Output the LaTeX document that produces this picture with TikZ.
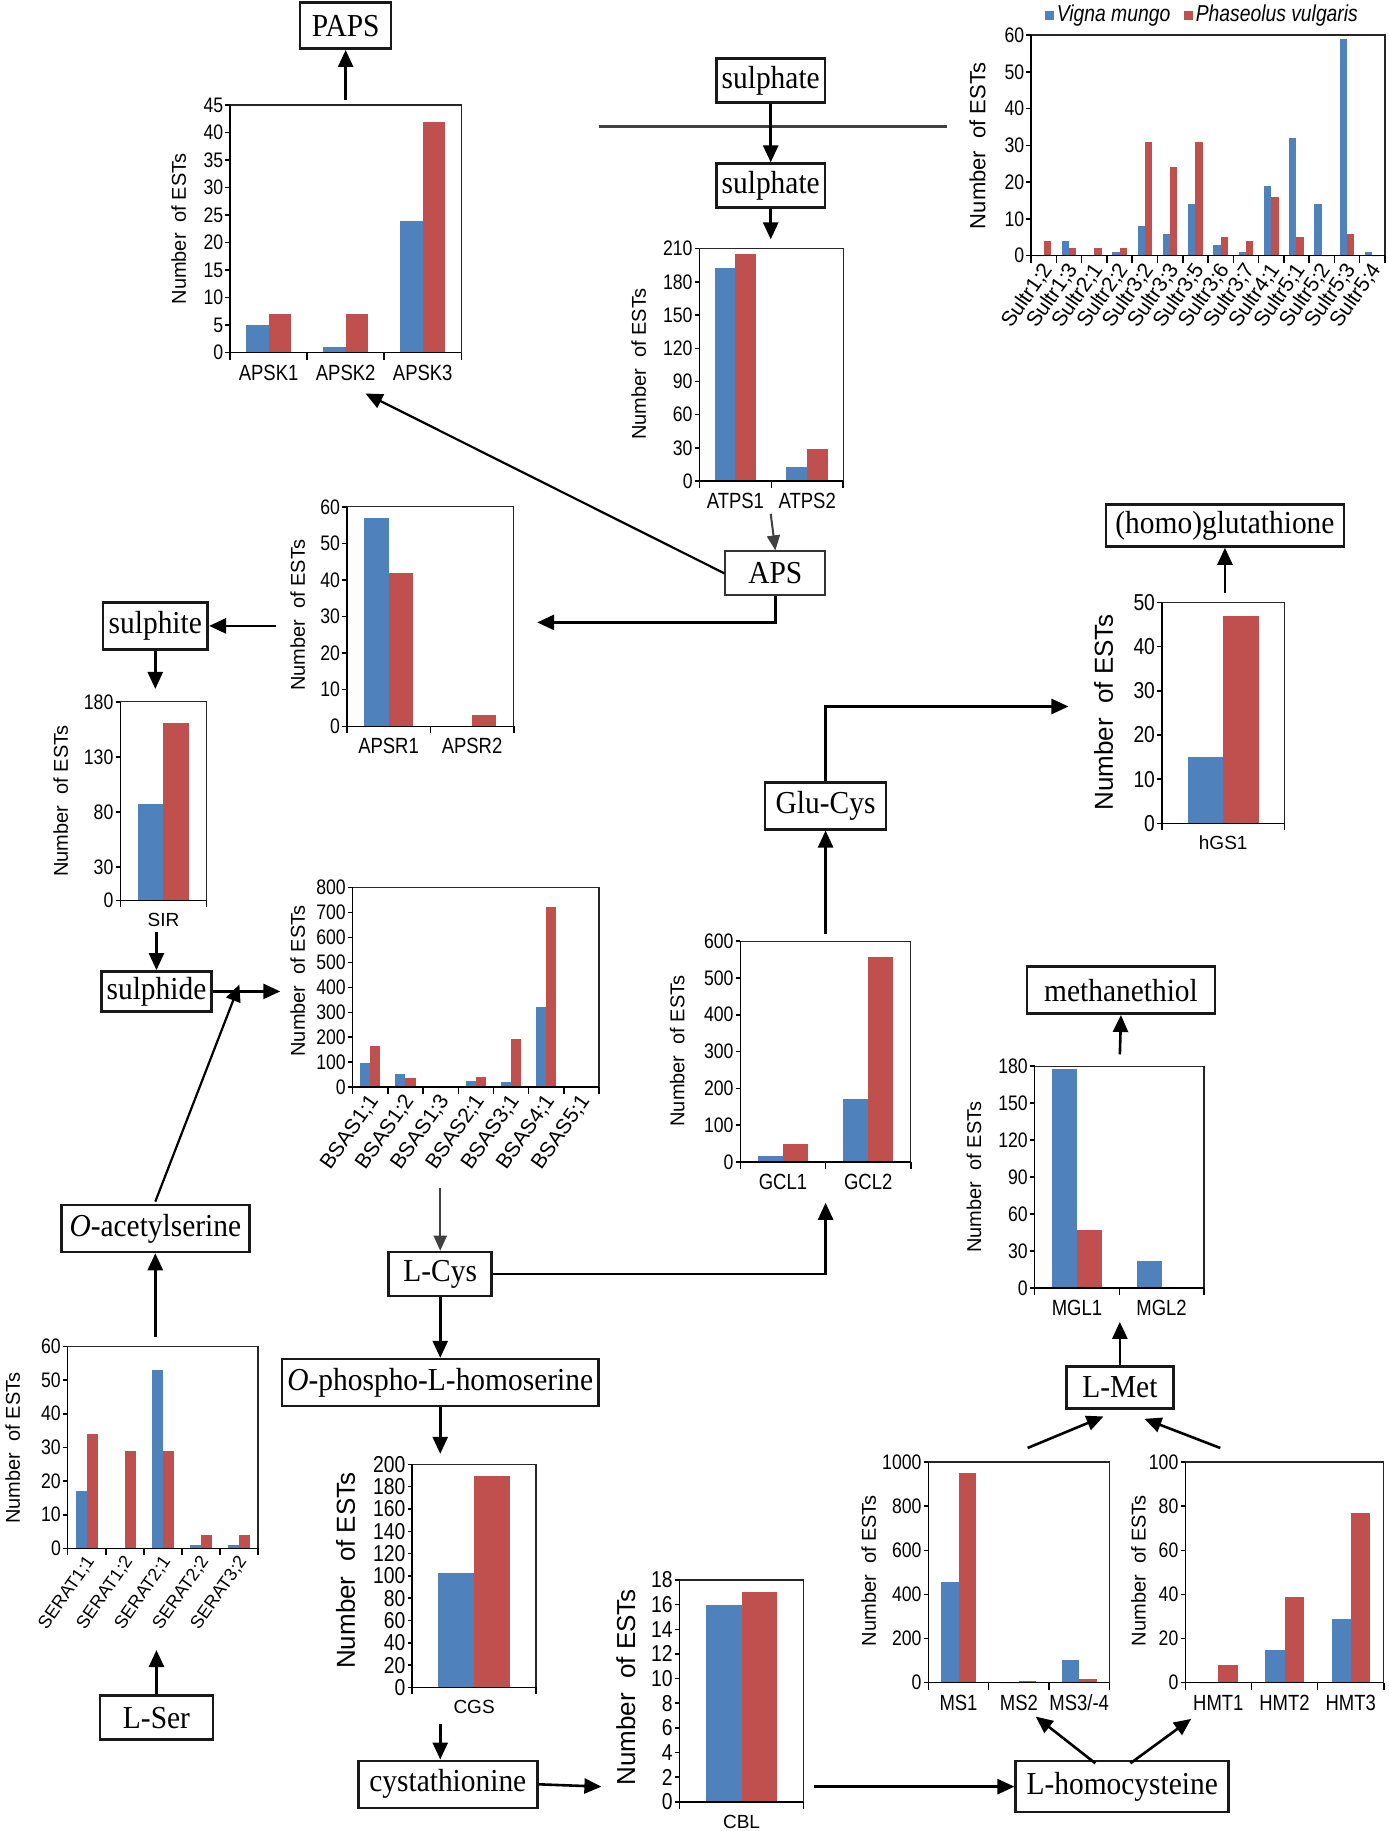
\documentclass[tikz,border=0pt]{standalone}
\usepackage{fontspec}
\setmainfont{Liberation Serif}
\newfontfamily\bxfont[FakeStretch=0.92]{Liberation Serif}
\newfontfamily\axfont[FakeStretch=0.84]{Liberation Sans}
\newfontfamily\axnfont{Liberation Sans}
\usetikzlibrary{arrows.meta}
\definecolor{vblue}{HTML}{4F81BD}
\definecolor{vred}{HTML}{C0504D}
\newcommand\setchart[6]{\def\chL{#1}\def\chR{#2}\def\chT{#3}\def\chB{#4}\def\chMax{#5}\def\chN{#6}\pgfmathsetmacro\chW{(#2-#1)/#6}}
\newcommand\chbars[1]{\foreach \b/\r [count=\i from 0] in {#1}{%
  \pgfmathsetmacro\xa{\chL+(\i+0.21)*\chW}%
  \pgfmathsetmacro\xb{\chL+(\i+0.5)*\chW}%
  \pgfmathsetmacro\xc{\chL+(\i+0.79)*\chW}%
  \pgfmathsetmacro\yb{\chB-(\chB-\chT)*(\b/\chMax)}%
  \pgfmathsetmacro\yr{\chB-(\chB-\chT)*(\r/\chMax)}%
  \fill[vblue] (\xa,\chB) rectangle (\xb,\yb);
  \fill[vred] (\xb,\chB) rectangle (\xc,\yr);}}
\newcommand\chaxes[2]{%
  \draw[chframe] (\chL,\chT) rectangle (\chR,\chB);
  \draw[chaxis] (\chL,\chT) -- (\chL,\chB) -- (\chR,\chB);
  \foreach \v in {#1}{\pgfmathsetmacro\yy{\chB-(\chB-\chT)*(\v/\chMax)}%
    \draw[chaxis] (\chL,\yy) -- ++(-4,0) node[left,inner sep=1.5pt,#2]{\v};}
  \foreach \k in {0,...,\chN}{\pgfmathsetmacro\xx{\chL+\k*\chW}%
    \draw[chaxis] (\xx,\chB) -- ++(0,6);}}
\newcommand\chcats[2]{\foreach \l [count=\i from 0] in {#1}{\node[#2] at (\chL+\i*\chW+0.5*\chW,\chB+17) {\l};}}
\newcommand\chrot[2]{\foreach \l [count=\i from 0] in {#1}{\node[rotlab,#2,anchor=east,rotate=55] at (\chL+\i*\chW+0.5*\chW+4,\chB+8) {\l};}}
\newcommand\chylab[3]{\node[#3,rotate=90] at (#1,#2) {Number\ \ of ESTs};}
\begin{document}
\begin{tikzpicture}[x=1.1682pt,y=-1.1682pt,
  ticklab/.style={font=\axfont\fontsize{21}{21}\selectfont},
  bigtick/.style={font=\axfont\fontsize{23}{23}\selectfont},
  catlab/.style={font=\axfont\fontsize{22}{22}\selectfont},
  smallcat/.style={font=\axnfont\fontsize{19}{19}\selectfont},
  rotlab/.style={font=\axnfont\fontsize{21}{21}\selectfont, inner sep=1pt},
  ylab/.style={font=\axnfont\fontsize{20}{20}\selectfont},
  bigylab/.style={font=\axnfont\fontsize{26}{26}\selectfont},
  chframe/.style={draw=black!85, line width=1.2pt},
  chaxis/.style={draw=black, line width=1.5pt},
  box/.style={draw=black!90, line width=2.6pt, inner sep=0pt, font=\bxfont\fontsize{32}{34}\selectfont},
  arr/.style={line width=2.6pt, -{Triangle[width=15pt,length=17pt]}},
  garr/.style={draw=black!75, line width=2pt, -{Triangle[width=13pt,length=15pt]}}]
\useasboundingbox (0,0) rectangle (1189,1568);
\fill[white] (0,0) rectangle (1189,1568);

% ---------- boxes ----------
\node[box, minimum width=91pt, minimum height=46pt] (paps) at (296,22) {PAPS};
\node[box, minimum width=109pt, minimum height=44pt] (s1) at (660,69) {sulphate};
\node[box, minimum width=109pt, minimum height=44pt] (s2) at (660,159) {sulphate};
\node[box, line width=2pt, draw=black!80, minimum width=100pt, minimum height=44pt] (aps) at (664,491) {APS};
\node[box, minimum width=238pt, minimum height=42pt] (homo) at (1049,450) {(homo)glutathione};
\node[box, minimum width=105pt, minimum height=47pt] (sulphite) at (133,536) {sulphite};
\node[box, minimum width=121pt, minimum height=47pt] (glucys) at (707,690) {Glu-Cys};
\node[box, minimum width=110pt, minimum height=40pt] (sulphide) at (134,849) {sulphide};
\node[box, minimum width=188pt, minimum height=47pt] (meth) at (960,848) {methanethiol};
\node[box, minimum width=188pt, minimum height=47pt] (oas) at (133,1052) {{\itshape O}-acetylserine};
\node[box, minimum width=103pt, minimum height=44pt] (lcys) at (377,1091) {L-Cys};
\node[box, minimum width=317pt, minimum height=47pt] (ophos) at (377,1184) {{\itshape O}-phospho-L-homoserine};
\node[box, minimum width=107pt, minimum height=42pt] (lmet) at (959,1188) {L-Met};
\node[box, minimum width=113pt, minimum height=44pt] (lser) at (134,1471) {L-Ser};
\node[box, minimum width=179pt, minimum height=47pt] (cysta) at (383.5,1528) {cystathionine};
\node[box, minimum width=213pt, minimum height=51pt] (lhcy) at (961,1530) {L-homocysteine};

% ---------- membrane ----------
\coordinate (memL) at (513,108);
\coordinate (memR) at (811,108);
\draw[draw=black!75, line width=2.8pt] (memL) -- (memR);

% ---------- charts ----------
% APSK
\setchart{197}{395}{90}{302}{45}{3}
\chbars{5/7,1/7,24/42}
\chaxes{0,5,...,45}{ticklab}
\chcats{APSK1,APSK2,APSK3}{catlab}
\chylab{153}{196}{ylab}
% ATPS
\setchart{599}{722}{213}{412}{210}{2}
\chbars{193/205,13/29}
\chaxes{0,30,...,210}{ticklab}
\chcats{ATPS1,ATPS2}{catlab}
\chylab{547}{312}{ylab}
% Sultr
\setchart{883}{1186}{30}{219}{60}{14}
\chbars{0/4,4/2,0/2,1/2,8/31,6/24,14/31,3/5,1/4,19/16,32/5,14/0,59/6,1/0}
\chaxes{0,10,...,60}{ticklab}
\chrot{Sultr1;2,Sultr1;3,Sultr2;1,Sultr2;2,Sultr3;2,Sultr3;3,Sultr3;5,Sultr3;6,Sultr3;7,Sultr4;1,Sultr5;1,Sultr5;2,Sultr5;3,Sultr5;4}{}
\chylab{837}{125}{font=\axnfont\fontsize{22}{22}\selectfont}
\fill[vblue] (895,9) rectangle (903,17);
\node[anchor=west, inner sep=1pt, font=\axfont\itshape\fontsize{23}{23}\selectfont] (lg1) at (904,13) {Vigna mungo};
\fill[vred] (1014,9) rectangle (1022,17);
\node[anchor=west, inner sep=1pt, font=\axfont\itshape\fontsize{23}{23}\selectfont] (lg2) at (1023,13) {Phaseolus vulgaris};
% APSR
\setchart{297}{440}{434}{622}{60}{2}
\chbars{57/42,0/3}
\chaxes{0,10,...,60}{ticklab}
\chcats{APSR1,APSR2}{catlab}
\chylab{255}{527}{ylab}
% SIR
\setchart{103}{177}{601}{771}{180}{1}
\chbars{87/161}
\chaxes{0,30,80,130,180}{ticklab}
\chcats{SIR}{smallcat}
\chylab{52}{686}{ylab}
% BSAS
\setchart{302}{513}{760}{931}{800}{7}
\chbars{97/165,52/37,2/1,25/39,20/192,320/723,0/5}
\chaxes{0,100,...,800}{ticklab}
\chrot{BSAS1;1,BSAS1;2,BSAS1;3,BSAS2;1,BSAS3;1,BSAS4;1,BSAS5;1}{}
\chylab{255}{840}{ylab}
% hGS1
\setchart{995}{1100}{516}{705}{50}{1}
\chbars{15/47}
\chaxes{0,10,...,50}{bigtick}
\chcats{hGS1}{smallcat}
\chylab{945}{610}{bigylab}
% GCL
\setchart{634}{780}{806}{995}{600}{2}
\chbars{15/48,172/558}
\chaxes{0,100,...,600}{ticklab}
\chcats{GCL1,GCL2}{catlab}
\chylab{580}{900}{ylab}
% MGL
\setchart{886}{1031}{913}{1103}{180}{2}
\chbars{178/47,22/0}
\chaxes{0,30,...,180}{ticklab}
\chcats{MGL1,MGL2}{catlab}
\chylab{834}{1008}{ylab}
% SERAT
\setchart{58}{221}{1153}{1326}{60}{5}
\chbars{17/34,0/29,53/29,1/4,1/4}
\chaxes{0,10,...,60}{ticklab}
\chrot{SERAT1;1,SERAT1;2,SERAT2;1,SERAT2;2,SERAT3;2}{font=\axnfont\fontsize{18}{18}\selectfont}
\chylab{11}{1240}{ylab}
% CGS
\setchart{353}{459}{1254}{1445}{200}{1}
\chbars{103/190}
\chaxes{0,20,...,200}{bigtick}
\chcats{CGS}{smallcat}
\chylab{296}{1345}{bigylab}
% CBL
\setchart{582}{688}{1353}{1543}{18}{1}
\chbars{16/17}
\chaxes{0,2,...,18}{bigtick}
\chcats{CBL}{smallcat}
\chylab{536}{1445}{bigylab}
% MS
\setchart{795}{950}{1252}{1441}{1000}{3}
\chbars{455/952,0/8,105/18}
\chaxes{0,200,...,1000}{ticklab}
\chcats{MS1,MS2,MS3/-4}{catlab}
\chylab{744}{1345}{ylab}
% HMT
\setchart{1015}{1185}{1252}{1441}{100}{3}
\chbars{0/8,15/39,29/77}
\chaxes{0,20,...,100}{ticklab}
\chcats{HMT1,HMT2,HMT3}{catlab}
\chylab{975}{1345}{ylab}

% ---------- connector end points ----------
\coordinate (apskTop) at (296,86);
\coordinate (atpsIn) at (660,205);
\coordinate (atpsOut) at (660,440);
\coordinate (apskIn) at (313,337);
\coordinate (apsrIn) at (460,533);
\coordinate (apsrOut) at (236,536);
\coordinate (sirIn) at (133,590);
\coordinate (sirOut) at (134,798);
\coordinate (bsasIn) at (240,849);
\coordinate (oasTip) at (205,843);
\coordinate (oasStart) at (133,1029);
\coordinate (seratOut) at (133,1145);
\coordinate (seratIn) at (134,1413);
\coordinate (bsasOut) at (377,1017);
\coordinate (gclIn) at (707,1030);
\coordinate (gclOut) at (707,800);
\coordinate (hgsIn) at (915,605);
\coordinate (hgsOut) at (1049,508);
\coordinate (cgsIn) at (377,1245);
\coordinate (cgsOut) at (377,1476);
\coordinate (cblIn) at (515,1530);
\coordinate (cblOut) at (697,1530);
\coordinate (lhA) at (938,1510);
\coordinate (msIn) at (887,1470);
\coordinate (lhB) at (968,1510);
\coordinate (hmtIn) at (1020,1472);
\coordinate (msOut) at (880,1240);
\coordinate (metA) at (945,1213);
\coordinate (hmtOut) at (1045,1240);
\coordinate (metB) at (980,1215);
\coordinate (mglIn) at (959,1132);
\coordinate (mglOut) at (959,903);

% ---------- connectors ----------
\draw[arr] (apskTop) -- (paps.south);
\draw[arr] (s1.south) -- (s2.north);
\draw[arr] (s2.south) -- (atpsIn);
\draw[garr] (atpsOut) -- (aps.north);
\draw[arr, line width=2.2pt] (aps.west) -- (apskIn);
\draw[arr] (aps.south) |- (apsrIn);
\draw[arr] (apsrOut) -- (sulphite.east);
\draw[arr] (sulphite.south) -- (sirIn);
\draw[arr] (sirOut) -- (sulphide.north);
\draw[arr] (sulphide.east) -- (bsasIn);
\draw[arr, line width=2.2pt] (oasStart) -- (oasTip);
\draw[arr] (seratOut) -- (oas.south);
\draw[arr] (lser.north) -- (seratIn);
\draw[garr] (bsasOut) -- (lcys.north);
\draw[arr] (lcys.east) -| (gclIn);
\draw[arr] (gclOut) -- (glucys.south);
\draw[arr] (glucys.north) |- (hgsIn);
\draw[arr] (hgsOut) -- (homo.south);
\draw[arr] (lcys.south) -- (ophos.north);
\draw[arr] (ophos.south) -- (cgsIn);
\draw[arr] (cgsOut) -- (cgsOut |- cysta.north);
\draw[arr] (cysta.east) -- (cblIn);
\draw[arr] (cblOut) -- (lhcy.west);
\draw[arr] (lhA) -- (msIn);
\draw[arr] (lhB) -- (hmtIn);
\draw[arr] (msOut) -- (metA);
\draw[arr] (hmtOut) -- (metB);
\draw[arr] (lmet.north) -- (mglIn);
\draw[arr] (mglOut) -- (meth.south);
\end{tikzpicture}
\end{document}
